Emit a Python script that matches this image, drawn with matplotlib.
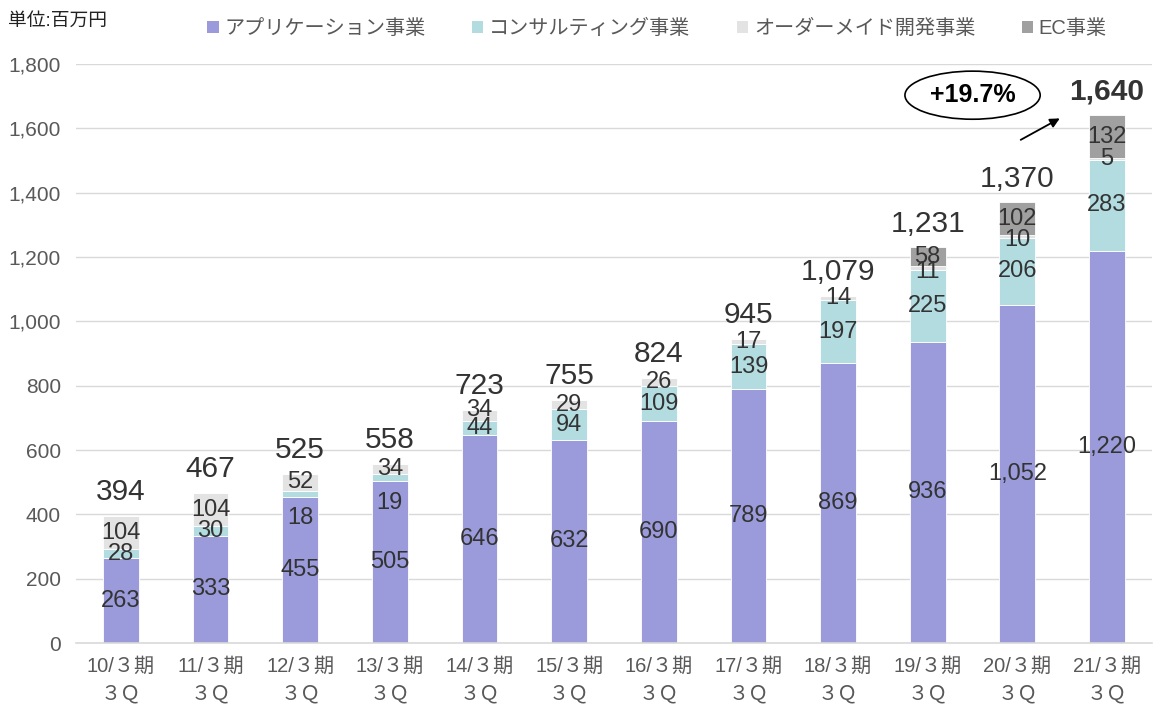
import matplotlib.pyplot as plt
import numpy as np
from matplotlib.patches import Patch

plt.rcParams['font.family'] = ['Liberation Sans', 'Noto Sans CJK JP', 'DejaVu Sans']

# data (million yen)
periods = ['10', '11', '12', '13', '14', '15', '16', '17', '18', '19', '20', '21']
app = [263, 333, 455, 505, 646, 632, 690, 789, 869, 936, 1052, 1220]
consult = [28, 30, 18, 19, 44, 94, 109, 139, 197, 225, 206, 283]
custom = [104, 104, 52, 34, 34, 29, 26, 17, 14, 11, 10, 5]
ec = [0, 0, 0, 0, 0, 0, 0, 0, 0, 58, 102, 132]
totals = [394, 467, 525, 558, 723, 755, 824, 945, 1079, 1231, 1370, 1640]
series_names = ['アプリケーション事業', 'コンサルティング事業', 'オーダーメイド開発事業', 'EC事業']
growth_label = '+19.7%'

colors = ['#9B9BDC', '#B2DCE0', '#E3E3E3', '#A0A0A0']
# some labels in the original were nudged by hand (bar index, series index) -> offset
label_shift = {(2, 1): -75, (3, 1): -80, (4, 2): 18, (9, 2): -12, (10, 2): -10}

fig = plt.figure(figsize=(11.53, 7.07), dpi=100)
ax = fig.add_axes([0.066, 0.0905, 0.933, 0.819])

x = np.arange(len(periods))
width = 0.4
series = [app, consult, custom, ec]
bottom = np.zeros(len(periods))
for si, (vals, c) in enumerate(zip(series, colors)):
    vals = np.array(vals, dtype=float)
    ax.bar(x, vals, width, bottom=bottom, color=c, edgecolor='white', linewidth=0.6, zorder=2)
    for i, v in enumerate(vals):
        if v <= 0:
            continue
        y = bottom[i] + v / 2 + label_shift.get((i, si), 0)
        ax.text(x[i], y, f'{int(v):,}', ha='center', va='center',
                fontsize=17, color='#333333', zorder=3)
    bottom += vals

for i, t in enumerate(totals):
    last = i == len(totals) - 1
    ax.text(x[i], bottom[i] + 30, f'{t:,}', ha='center', va='bottom',
            fontsize=21.5, color='#333333', fontweight='bold' if last else 'normal', zorder=3)

ax.set_ylim(0, 1800)
ax.set_xlim(-0.5, len(periods) - 0.5)
ax.set_yticks(np.arange(0, 1801, 200))
ax.set_yticklabels([f'{v:,}' for v in range(0, 1801, 200)])
ax.set_xticks(x)
ax.set_xticklabels([f'{p}/３期\n３Ｑ' for p in periods], linespacing=1.55)
ax.tick_params(axis='both', length=0, colors='#595959')
ax.tick_params(axis='x', pad=10, labelsize=14.5)
ax.tick_params(axis='y', pad=11, labelsize=15)
ax.grid(axis='y', color='#D9D9D9', linewidth=1, zorder=0)
for s in ['top', 'right', 'left']:
    ax.spines[s].set_visible(False)
ax.spines['bottom'].set_color('#D9D9D9')
ax.spines['bottom'].set_linewidth(1.2)

fig.text(0.007, 0.97, '単位:百万円', fontsize=13.5, color='#222222', va='center', ha='left')

handles = [Patch(facecolor=c, edgecolor='none') for c in colors]
fig.legend(handles, series_names, loc='center', bbox_to_anchor=(0.570, 0.960), ncol=4,
           frameon=False, fontsize=14.5, handlelength=0.55, handleheight=0.55, handletextpad=0.3,
           columnspacing=2.3, labelcolor='#595959')

# growth callout
ax.annotate('', xy=(10.5, 1635), xytext=(10.01, 1560),
            arrowprops=dict(arrowstyle='-|>', color='black', lw=1.3, mutation_scale=14))
ax.text(9.5, 1703, growth_label, ha='center', va='center', fontsize=18, fontweight='bold',
        color='black', bbox=dict(boxstyle='ellipse,pad=0.2', facecolor='white', edgecolor='black', lw=1.2))

fig.savefig('out.png', dpi=100)
